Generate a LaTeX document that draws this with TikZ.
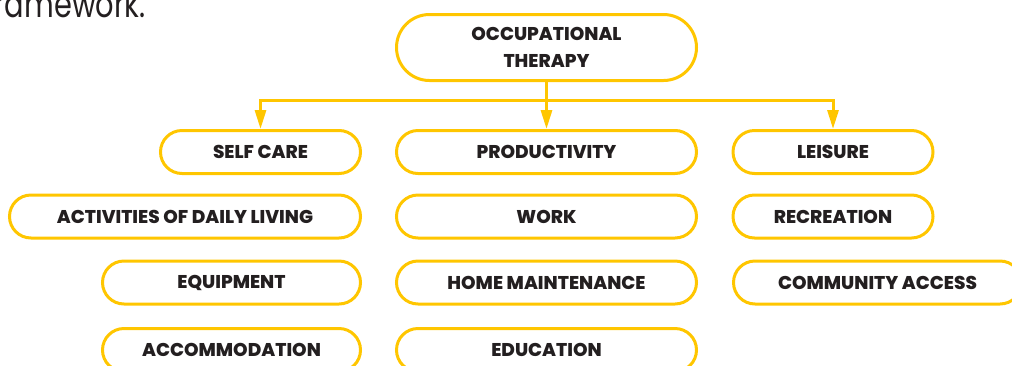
\documentclass[tikz,border=0pt]{standalone}
\usepackage{fontspec}
\setmainfont{Poppins}[BoldFont={Poppins ExtraBold}]
\usetikzlibrary{arrows.meta}
\definecolor{otyellow}{RGB}{255,198,0}
\definecolor{ink}{RGB}{35,31,32}

\begin{document}
\begin{tikzpicture}[x=1pt,y=-1pt,
    area/.style={draw=otyellow,line width=3pt,rounded corners=21.5pt,
      minimum height=43pt,inner sep=0pt,text=ink,
      font=\bfseries\fontsize{18.5}{27}\selectfont},
    flow/.style={draw=otyellow,line width=3pt,-{Triangle[length=19pt,width=11pt]}}]
  \useasboundingbox (0,0) rectangle (1012,365);
  \node[anchor=base east,inner sep=0pt,xscale=0.78,text=ink,font=\fontsize{37}{37}\selectfont] (cap) at (146,17) {framework.};

  \node[area,minimum width=300pt,minimum height=66pt,rounded corners=33pt,align=center] (OT) at (546.5,47.5) {OCCUPATIONAL\\THERAPY};

  \node[area,minimum width=200pt] (SC) at (260.5,152) {SELF CARE};
  \node[area,minimum width=300pt] (PR) at (546.5,152) {PRODUCTIVITY};
  \node[area,minimum width=200pt] (LE) at (833,152) {LEISURE};

  \node[area,minimum width=351pt] (ADL) at (185,216.5) {ACTIVITIES OF DAILY LIVING};
  \node[area,minimum width=300pt] (WK) at (546.5,216.5) {WORK};
  \node[area,minimum width=200pt] (RE) at (833,216.5) {RECREATION};

  \node[area,minimum width=258pt] (EQ) at (231.5,282.5) {EQUIPMENT};
  \node[area,minimum width=300pt] (HM) at (546.5,282.5) {HOME MAINTENANCE};
  \node[area,minimum width=288pt] (CA) at (877.5,282.5) {COMMUNITY ACCESS};

  \node[area,minimum width=258pt] (AC) at (231.5,350) {ACCOMMODATION};
  \node[area,minimum width=300pt] (ED) at (546.5,350) {EDUCATION};

  % branches off the top box
  \coordinate (bus) at (546.5,100);
  \draw[flow] (bus) -| (SC);
  \draw[flow] (bus) -| (LE);
  \draw[flow] (OT) -- (PR);
\end{tikzpicture}
\end{document}
